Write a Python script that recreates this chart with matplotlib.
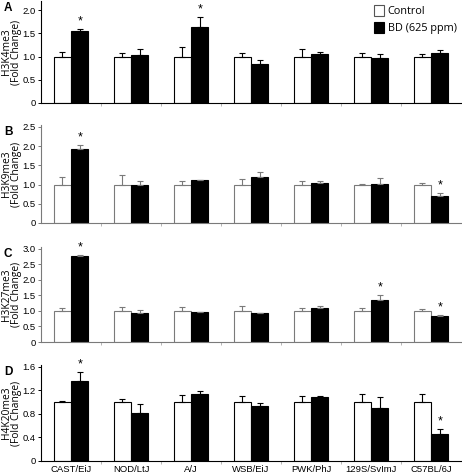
import numpy as np
import matplotlib
matplotlib.use("Agg")
import matplotlib.pyplot as plt
from matplotlib.patches import Patch

plt.rcParams.update({"font.family": ["Liberation Sans", "DejaVu Sans"], "font.size": 6.8})

strains = ["CAST/EiJ", "NOD/LtJ", "A/J", "WSB/EiJ", "PWK/PhJ", "129S/SvImJ", "C57BL/6J"]

# control is normalised to 1.0; only the upper error bar is drawn
ctrl = [1.0, 1.0, 1.0, 1.0, 1.0, 1.0, 1.0]

h3k4_ctrl_err = [0.09, 0.08, 0.20, 0.07, 0.17, 0.08, 0.05]
h3k4_bd = [1.55, 1.04, 1.65, 0.85, 1.06, 0.98, 1.07]
h3k4_bd_err = [0.05, 0.12, 0.21, 0.08, 0.05, 0.07, 0.07]
h3k4_sig = [0, 2]

h3k9_ctrl_err = [0.20, 0.26, 0.10, 0.14, 0.08, 0.01, 0.03]
h3k9_bd = [1.92, 0.98, 1.12, 1.20, 1.05, 1.02, 0.70]
h3k9_bd_err = [0.11, 0.11, 0.01, 0.13, 0.03, 0.14, 0.08]
h3k9_sig = [0, 6]

h3k27_ctrl_err = [0.08, 0.12, 0.12, 0.17, 0.08, 0.10, 0.06]
h3k27_bd = [2.76, 0.94, 0.95, 0.94, 1.09, 1.35, 0.82]
h3k27_bd_err = [0.03, 0.09, 0.01, 0.0, 0.08, 0.17, 0.05]
h3k27_sig = [0, 5, 6]

h4k20_ctrl_err = [0.02, 0.06, 0.12, 0.10, 0.10, 0.13, 0.14]
h4k20_bd = [1.36, 0.81, 1.13, 0.94, 1.08, 0.90, 0.46]
h4k20_bd_err = [0.15, 0.15, 0.06, 0.05, 0.02, 0.18, 0.08]
h4k20_sig = [0, 6]

panels = [
    ("A", "H3K4me3", h3k4_ctrl_err, h3k4_bd, h3k4_bd_err, h3k4_sig,
     [0, 0.5, 1.0, 1.5, 2.0], 2.2, "#000000"),
    ("B", "H3K9me3", h3k9_ctrl_err, h3k9_bd, h3k9_bd_err, h3k9_sig,
     [0, 0.5, 1.0, 1.5, 2.0, 2.5], 2.55, "#7a7a7a"),
    ("C", "H3K27me3", h3k27_ctrl_err, h3k27_bd, h3k27_bd_err, h3k27_sig,
     [0, 0.5, 1.0, 1.5, 2.0, 2.5, 3.0], 3.05, "#7a7a7a"),
    ("D", "H4K20me3", h4k20_ctrl_err, h4k20_bd, h4k20_bd_err, h4k20_sig,
     [0, 0.4, 0.8, 1.2, 1.6], 1.63, "#000000"),
]

# axes boxes in pixels: (bottom, top) measured on the 474 px tall figure
W, H = 462, 474
boxes = [(103, 1), (223, 125), (342, 247), (461, 365)]

fig = plt.figure(figsize=(W / 100, H / 100), dpi=100)
x = np.arange(len(strains))
bw = 0.29

for (letter, name, cerr, bd, berr, sig, yt, ytop, ec), (pb, pt) in zip(panels, boxes):
    ax = fig.add_axes([41 / W, 1 - pb / H, 420 / W, (pb - pt) / H])
    zeros = np.zeros(len(strains))
    ax.bar(x - bw / 2, ctrl, bw, color="white", edgecolor=ec, linewidth=0.8,
           yerr=[zeros, cerr], error_kw=dict(ecolor=ec, elinewidth=0.8, capsize=2.3, capthick=0.8))
    ax.bar(x + bw / 2, bd, bw, color="black", edgecolor="black", linewidth=0.8,
           yerr=[zeros, berr], error_kw=dict(ecolor=ec, elinewidth=0.8, capsize=2.3, capthick=0.8))
    for i in sig:
        ax.text(x[i] + bw / 2, bd[i] + berr[i] + ytop * 0.015, "*", ha="center", va="bottom",
                fontsize=9)
    ax.set_xlim(-0.5, len(strains) - 0.5)
    ax.set_ylim(0, ytop)
    ax.set_yticks(yt)
    ax.set_yticklabels(["0"] + [f"{v:.1f}" for v in yt[1:]])
    ax.set_xticks(x)
    ax.set_xticks(np.arange(0.5, len(strains) - 1, 1.0), minor=True)
    ax.tick_params(axis="x", which="major", length=0, pad=3)
    ax.tick_params(axis="x", which="minor", length=2, width=0.6, color="#aaaaaa")
    ax.tick_params(axis="y", length=2.5, width=0.7, pad=1.5, color=ec)
    if letter == "D":
        ax.set_xticklabels(strains, fontsize=6.8)
    else:
        ax.set_xticklabels([])
    for s in ["top", "right"]:
        ax.spines[s].set_visible(False)
    for s in ["left", "bottom"]:
        ax.spines[s].set_color(ec)
        ax.spines[s].set_linewidth(0.8)
    ax.set_ylabel(f"{name}\n(Fold Change)", family=["Open Sans", "DejaVu Sans"],
                  fontsize=7.4, linespacing=0.9)
    ax.yaxis.set_label_coords(-19 / 420, 0.5)
    fig.text(4 / W, 1 - (pt + 1) / H, letter, fontsize=8.5, fontweight="bold",
             ha="left", va="top")

handles = [Patch(facecolor="white", edgecolor="#555555", linewidth=0.8, label="Control"),
           Patch(facecolor="black", edgecolor="black", linewidth=0.8, label="BD (625 ppm)")]
fig.legend(handles=handles, loc="upper right", bbox_to_anchor=(1.0, 1.0), frameon=False,
           handlelength=1.0, handleheight=1.1, handletextpad=0.3, labelspacing=0.45,
           borderaxespad=0.3, borderpad=0.2,
           prop=dict(family=["Open Sans", "DejaVu Sans"], size=7.8))

fig.savefig("out.png", dpi=100)
